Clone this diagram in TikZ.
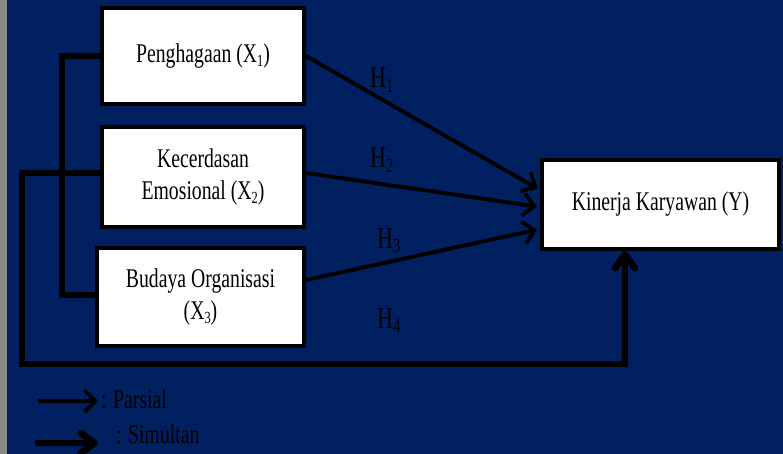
\documentclass[tikz,border=0pt]{standalone}
\usepackage{fontspec}
\setmainfont{Liberation Serif}[FakeStretch=0.73]
\usetikzlibrary{arrows.meta,calc}
\definecolor{navy}{HTML}{002060}
\definecolor{stripgrey}{HTML}{868A80}
\newcommand\sbx[1]{\raisebox{-0.3ex}{\fontsize{17}{17}\selectfont #1}}
\newcommand\hsb[1]{\raisebox{-0.35ex}{\fontsize{20}{20}\selectfont #1}}
\begin{document}
\begin{tikzpicture}[x=1pt,y=-1pt,
 box/.style={draw=black, line width=4pt, fill=white, inner sep=0pt, align=center, font=\fontsize{27}{32}\selectfont},
 partial/.style={line width=3.8pt, -{Straight Barb[length=11pt,width=22pt]}},
 simul/.style={line width=6.5pt, -{Straight Barb[length=14pt,width=20pt,round]}},
 bracket/.style={line width=6pt},
 hlabel/.style={font=\fontsize{30}{30}\selectfont, inner sep=0pt, anchor=base west},
 legtext/.style={font=\fontsize{27}{30}\selectfont, inner sep=0pt, anchor=base west}]
\fill[navy] (0,0) rectangle (783,454);
\fill[stripgrey] (0,0) rectangle (7,454);
\useasboundingbox (0,0) rectangle (783,454);

\node[box, minimum width=202pt, minimum height=96pt] (X1) at (203,56) {Penghagaan (X\sbx{1})};
\node[box, minimum width=202pt, minimum height=100pt] (X2) at (203,177) {Kecerdasan\\Emosional (X\sbx{2})};
\node[box, minimum width=207pt, minimum height=98pt] (X3) at (200.5,297) {Budaya Organisasi\\(X\sbx{3})};
\node[box, minimum width=237pt, minimum height=89pt] (Y) at (660.5,204.5) {Kinerja Karyawan (Y)};

\draw[partial, shorten >=3pt] (X1.east) -- ($(Y.west)+(0,-14.5)$);
\draw[partial, shorten >=3pt] ($(X2.east)+(0,-4)$) -- ($(Y.west)+(0,2.5)$);
\draw[partial, shorten >=3pt] ($(X3.east)+(0,-17)$) -- ($(Y.west)+(0,24.5)$);

\coordinate (b1) at (62,56);
\coordinate (b2) at (62,295);
\draw[bracket] (X1.west) -- (b1) -- (b2) -- (X3.west |- b2);

\coordinate (c1) at (22,173);
\coordinate (c2) at (22,364);
\coordinate (c3) at (625,364);
\draw[simul] (X2.west |- c1) -- (c1) -- (c2) -- (c3) -- (c3 |- Y.south);

\node[hlabel] (h1) at (370,88) {H\hsb{1}};
\node[hlabel] (h2) at (370,168) {H\hsb{2}};
\node[hlabel] (h3) at (377,248) {H\hsb{3}};
\node[hlabel] (h4) at (377,328) {H\hsb{4}};

\coordinate (l1a) at (38,401);
\coordinate (l1b) at (98,401);
\draw[partial] (l1a) -- (l1b);
\node[legtext] (lt1) at (101,408) {: Parsial};
\coordinate (l2a) at (35,443);
\coordinate (l2b) at (98,443);
\draw[simul] (l2a) -- (l2b);
\node[legtext] (lt2) at (116,443) {: Simultan};
\end{tikzpicture}
\end{document}
